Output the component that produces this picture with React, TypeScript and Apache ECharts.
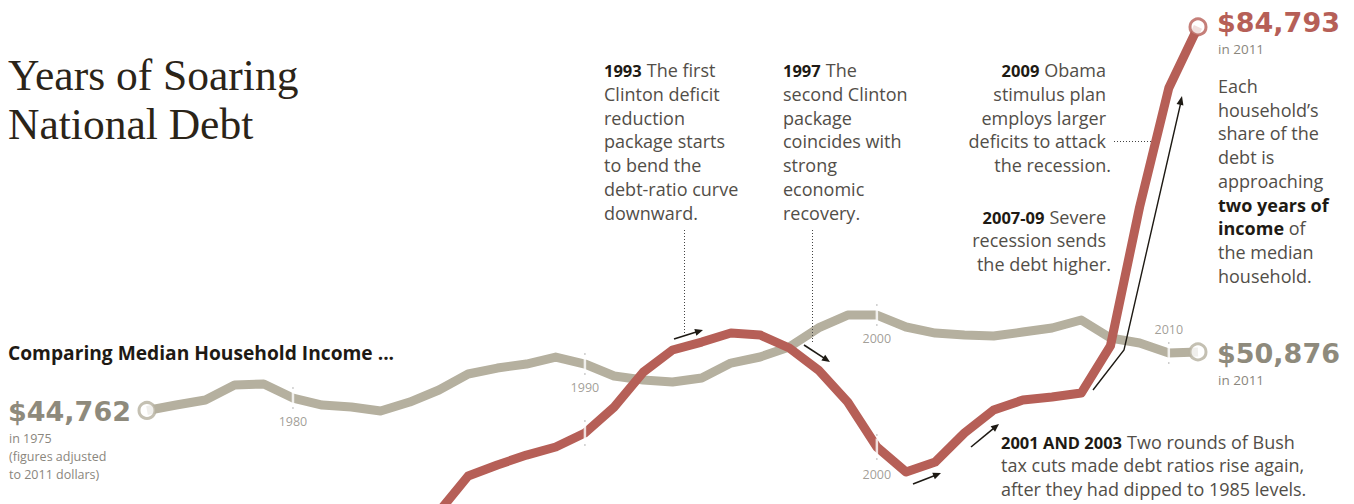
import React, { useEffect, useRef } from "react";
import * as echarts from "echarts";

// ---------- data ----------
const years = [
  1975, 1976, 1977, 1978, 1979, 1980, 1981, 1982, 1983, 1984,
  1985, 1986, 1987, 1988, 1989, 1990, 1991, 1992, 1993, 1994,
  1995, 1996, 1997, 1998, 1999, 2000, 2001, 2002, 2003, 2004,
  2005, 2006, 2007, 2008, 2009, 2010, 2011,
];

// Median household income (2011 dollars)
const medianIncome = [
  44762, 45330, 45850, 47420, 47520, 46060, 45330, 45120, 44700, 45640,
  46900, 48570, 49190, 49610, 50340, 49610, 48360, 47940, 47730, 48150,
  49710, 50340, 51380, 53370, 54720, 54720, 53470, 52840, 52640, 52530,
  52950, 53370, 54200, 52320, 51800, 50760, 50876,
];

// Debt per household (2011 dollars), visible from 1985
const debtYears = [
  1985, 1986, 1987, 1988, 1989, 1990, 1991, 1992, 1993, 1994,
  1995, 1996, 1997, 1998, 1999, 2000, 2001, 2002, 2003, 2004,
  2005, 2006, 2007, 2008, 2009, 2010, 2011,
];
const debtPerHousehold = [
  34200, 37920, 39070, 40110, 40950, 42410, 45120, 48770, 51070, 51900,
  52840, 52640, 51280, 48980, 45640, 40950, 38340, 39380, 42410, 44810,
  45850, 46170, 46580, 51490, 66000, 78420, 84793,
];

const incomeTickYears = [1980, 1990, 2000, 2010];
const incomeTickLabelSide = ["bottom", "bottom", "bottom", "top"];
const debtTickYears = [1990, 2000];
const debtTickLabels = ["", "2000"];

// ---------- styles ----------
const RED = "#b65f57";
const GRAY = "#b5b09f";
const GRAY_NUM = "#8e8a7c";
const TEXT = "#524e48";
const DARK = "#1e1a14";
const SMALL = "#8a867d";
const SANS = "'Open Sans', 'DejaVu Sans', sans-serif";
const HEAVY = "'DejaVu Sans', 'Open Sans', sans-serif";
const SERIF = "'Liberation Serif', 'DejaVu Serif', serif";

const incomeAt = (y: number) => medianIncome[years.indexOf(y)];
const debtAt = (y: number) => debtPerHousehold[debtYears.indexOf(y)];

function txt(x: number, y: number, text: string, o: any = {}) {
  return {
    type: "text",
    x,
    y,
    silent: true,
    z: 100,
    style: {
      text,
      fill: o.fill || TEXT,
      fontSize: o.fontSize || 18,
      fontFamily: o.fontFamily || SANS,
      fontWeight: o.fontWeight || "normal",
      align: o.align || "left",
      verticalAlign: "middle",
      lineHeight: o.lineHeight,
      rich: o.rich,
    },
  };
}

const boldRich = (size: number) => ({
  b: { fontFamily: SANS, fontWeight: "bold", fontSize: size, fill: DARK, padding: [0, 5, 0, 0] },
  n: { fontFamily: SANS, fontSize: 18, fill: TEXT },
  k: { fontFamily: SANS, fontWeight: "bold", fontSize: 18, fill: DARK },
});

function block(x: number, ys: number[], lines: string[], align = "left", xs?: number[]) {
  return lines.map((l, i) =>
    txt(xs ? xs[i] : x, ys[i], l, { align, rich: boldRich(16.5) })
  );
}

function arrowHead(x1: number, y1: number, x2: number, y2: number, len = 8, w = 3.5) {
  const dx = x2 - x1;
  const dy = y2 - y1;
  const d = Math.sqrt(dx * dx + dy * dy);
  const ux = dx / d;
  const uy = dy / d;
  const bx = x2 - ux * len;
  const by = y2 - uy * len;
  return {
    type: "polygon",
    silent: true,
    z: 100,
    shape: { points: [[x2, y2], [bx - uy * w, by + ux * w], [bx + uy * w, by - ux * w]] },
    style: { fill: DARK },
  };
}

function arrow(x1: number, y1: number, x2: number, y2: number) {
  return [
    {
      type: "line",
      silent: true,
      z: 100,
      shape: { x1, y1, x2: x2 - (x2 - x1) * 0.15, y2: y2 - (y2 - y1) * 0.15 },
      style: { stroke: DARK, lineWidth: 1.6 },
    },
    arrowHead(x1, y1, x2, y2),
  ];
}

function dotted(x1: number, y1: number, x2: number, y2: number) {
  return {
    type: "line",
    silent: true,
    z: 100,
    shape: { x1, y1, x2, y2 },
    style: { stroke: "#444", lineWidth: 1, lineDash: [1, 2] },
  };
}

const L = [70, 94, 117.5, 141, 165, 189, 213];

export default function App() {
  const ref = useRef<HTMLDivElement>(null);

  useEffect(() => {
    if (!ref.current) return;
    const chart = echarts.init(ref.current, undefined, { renderer: "svg" });

    const tickLabelCommon = { color: SMALL, fontSize: 12.5, fontFamily: SANS };
    const big = (fill: string) => ({ fontSize: 27, fontWeight: "bold", fontFamily: HEAVY, fill });
    const small = { fontSize: 12.5, fill: SMALL };

    const graphic: any[] = [
      // title
      txt(8, 75, "Years of Soaring", { fontFamily: SERIF, fontSize: 43.5, fill: "#2b2418" }),
      txt(8, 123.5, "National Debt", { fontFamily: SERIF, fontSize: 43.5, fill: "#2b2418" }),
      // subtitle
      txt(8, 352, "Comparing Median Household Income ...", { fontSize: 19.2, fontWeight: "bold", fill: DARK }),
      // start value
      txt(8, 411, "$44,762", big(GRAY_NUM)),
      txt(9, 438.5, "in 1975", small),
      txt(9, 456.5, "(figures adjusted", small),
      txt(9, 474.5, "to 2011 dollars)", small),
      // end values
      txt(1217, 22, "$84,793", big(RED)),
      txt(1218, 48.5, "in 2011", { fontSize: 13.5, fill: SMALL }),
      txt(1217, 353, "$50,876", big(GRAY_NUM)),
      txt(1218, 379.5, "in 2011", { fontSize: 13.5, fill: SMALL }),
      // right explanation
      ...[
        "{n|Each}",
        "{n|household\u2019s}",
        "{n|share of the}",
        "{n|debt is}",
        "{n|approaching}",
        "{k|two years of}",
        "{k|income}{n| of}",
        "{n|the median}",
        "{n|household.}",
      ].map((l, i) => txt(1218, [86, 109.5, 133, 157, 181, 204.5, 228, 252, 276][i], l, { rich: boldRich(18) })),
      // 1993
      ...block(604, L, [
        "{b|1993}{n|The first}",
        "{n|Clinton deficit}",
        "{n|reduction}",
        "{n|package starts}",
        "{n|to bend the}",
        "{n|debt-ratio curve}",
        "{n|downward.}",
      ]),
      dotted(684.5, 230, 684.5, 334),
      ...arrow(674, 339, 703, 330),
      // 1997
      ...block(783, L, [
        "{b|1997}{n|The}",
        "{n|second Clinton}",
        "{n|package}",
        "{n|coincides with}",
        "{n|strong}",
        "{n|economic}",
        "{n|recovery.}",
      ]),
      dotted(812.5, 230, 812.5, 343),
      ...arrow(804, 345, 830, 362),
      // 2009
      ...block(1106, L.slice(0, 5), [
        "{b|2009}{n|Obama}",
        "{n|stimulus plan}",
        "{n|employs larger}",
        "{n|deficits to attack}",
        "{n|the recession.}",
      ], "right", [1106, 1106, 1106, 1106, 1111]),
      dotted(1114, 141.5, 1153, 141.5),
      // 2007-09
      ...block(1106, [217, 240, 263.5], [
        "{b|2007-09}{n|Severe}",
        "{n|recession sends}",
        "{n|the debt higher.}",
      ], "right", [1106, 1106, 1111]),
      {
        type: "polyline",
        silent: true,
        z: 100,
        shape: { points: [[1093, 390], [1124, 350], [1180.5, 104]] },
        style: { stroke: DARK, lineWidth: 1.4, fill: "none" },
      },
      arrowHead(1124, 350, 1182, 96, 9, 3.5),
      // 2001 and 2003
      ...block(1001, [442, 465, 488.5], [
        "{b|2001 AND 2003}{n|Two rounds of Bush}",
        "{n|tax cuts made debt ratios rise again,}",
        "{n|after they had dipped to 1985 levels.}",
      ]),
      ...arrow(913, 484, 941, 473),
      ...arrow(971, 447, 999, 424),
    ];

    const option: any = {
      animation: false,
      backgroundColor: "#ffffff",
      grid: { left: 147, right: 156, top: 0, bottom: 0, containLabel: false },
      xAxis: { type: "value", min: 1975, max: 2011, show: false },
      yAxis: { type: "value", min: 35000, max: 87600, show: false },
      series: [
        {
          name: "Median household income",
          type: "line",
          data: years.map((y, i) => [y, medianIncome[i]]),
          symbol: "none",
          silent: true,
          z: 2,
          lineStyle: { color: GRAY, width: 9, join: "round" },
        },
        {
          name: "Debt per household",
          type: "line",
          data: debtYears.map((y, i) => [y, debtPerHousehold[i]]),
          symbol: "none",
          silent: true,
          z: 3,
          lineStyle: { color: RED, width: 9, join: "round" },
        },
        {
          name: "income ticks",
          type: "scatter",
          silent: true,
          z: 5,
          symbol: "rect",
          symbolSize: [2.5, 15],
          itemStyle: { color: "#ffffff" },
          data: incomeTickYears.map((y, i) => ({
            value: [y, incomeAt(y)],
            label: {
              show: true,
              formatter: String(y),
              position: incomeTickLabelSide[i],
              distance: 9,
              ...tickLabelCommon,
            },
          })),
        },
        {
          name: "debt ticks",
          type: "scatter",
          silent: true,
          z: 5,
          symbol: "rect",
          symbolSize: [2.5, 17],
          itemStyle: { color: "#ffffff" },
          data: debtTickYears.map((y, i) => ({
            value: [y, debtAt(y)],
            label: {
              show: debtTickLabels[i] !== "",
              formatter: debtTickLabels[i],
              position: "bottom",
              distance: 13,
              ...tickLabelCommon,
            },
          })),
        },
        {
          name: "tick dots",
          type: "scatter",
          silent: true,
          z: 5,
          symbol: "rect",
          symbolSize: [1.2, 1.5],
          itemStyle: { color: "#999" },
          data: [
            ...incomeTickYears.map((y) => ({ value: [y, incomeAt(y)], symbolOffset: [0, -10] })),
            ...incomeTickYears.map((y) => ({ value: [y, incomeAt(y)], symbolOffset: [0, 10] })),
            ...debtTickYears.map((y) => ({ value: [y, debtAt(y)], symbolOffset: [0, -12] })),
            ...debtTickYears.map((y) => ({ value: [y, debtAt(y)], symbolOffset: [0, 12] })),
          ],
        },
        {
          name: "income ends",
          type: "scatter",
          silent: true,
          z: 6,
          symbol: "circle",
          symbolSize: 16,
          itemStyle: { color: "#ffffff", borderColor: GRAY, borderWidth: 3 },
          data: [
            [years[0], medianIncome[0]],
            [years[years.length - 1], medianIncome[medianIncome.length - 1]],
          ],
        },
        {
          name: "debt end",
          type: "scatter",
          silent: true,
          z: 6,
          symbol: "circle",
          symbolSize: 16,
          itemStyle: { color: "#ffffff", borderColor: RED, borderWidth: 3 },
          data: [[debtYears[debtYears.length - 1], debtPerHousehold[debtPerHousehold.length - 1]]],
        },
      ],
      graphic,
    };

    chart.setOption(option);
    return () => chart.dispose();
  }, []);

  return (
    <div
      ref={ref}
      style={{ position: "absolute", left: 0, top: 0, width: 1354, height: 504, background: "#fff" }}
    />
  );
}
